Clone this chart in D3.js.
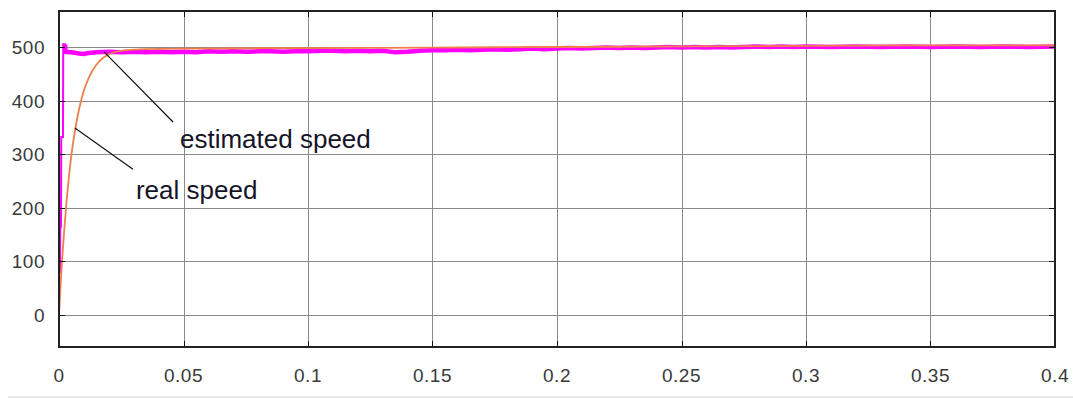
<!DOCTYPE html>
<html><head><meta charset="utf-8">
<script src="https://cdn.jsdelivr.net/npm/d3@7"></script>
<style>body{margin:0;background:#fff;} svg{display:block;}</style>
</head><body>
<script>
// ---- data ----
const xTicks = [0, 0.05, 0.1, 0.15, 0.2, 0.25, 0.3, 0.35, 0.4];
const xTickLabels = ["0", "0.05", "0.1", "0.15", "0.2", "0.25", "0.3", "0.35", "0.4"];
const yTicks = [0, 100, 200, 300, 400, 500];
const yTickLabels = ["0", "100", "200", "300", "400", "500"];

// real speed (magenta)
const realT = [0, 0.0001, 0.0004, 0.0005, 0.0008, 0.0009, 0.0016, 0.0017, 0.0024, 0.0026,
  0.005, 0.008, 0.010, 0.012, 0.015, 0.020, 0.025, 0.030, 0.035, 0.040, 0.045, 0.050,
  0.055, 0.060, 0.065, 0.070, 0.075, 0.080, 0.085, 0.090, 0.095, 0.100, 0.105, 0.110,
  0.115, 0.120, 0.125, 0.130, 0.135, 0.140, 0.145, 0.150, 0.155, 0.160, 0.165, 0.170,
  0.175, 0.180, 0.185, 0.190, 0.195, 0.200, 0.205, 0.210, 0.215, 0.220, 0.225, 0.230,
  0.235, 0.240, 0.245, 0.250, 0.255, 0.260, 0.265, 0.270, 0.275, 0.280, 0.285, 0.290,
  0.295, 0.300, 0.310, 0.320, 0.330, 0.340, 0.350, 0.360, 0.370, 0.380, 0.390, 0.400];
const realV = [0, 80, 80, 160, 165, 332, 332, 505, 505, 491,
  490, 488, 487, 489, 490, 491, 490, 491, 490, 491, 490, 491,
  490, 492, 491, 492, 491, 492, 492, 491, 492, 492, 493, 493,
  492, 493, 492, 493, 490, 491, 493, 494, 494, 495, 494, 495,
  496, 495, 496, 497, 496, 497, 498, 497, 498, 499, 498, 499,
  498, 499, 500, 499, 500, 499, 500, 499, 500, 501, 500, 501,
  500, 501, 500, 501, 500, 501, 500, 501, 500, 501, 500, 501];

// estimated speed (orange)
const estT = [0, 0.0005, 0.001, 0.002, 0.003, 0.004, 0.005, 0.006, 0.008, 0.010, 0.012,
  0.015, 0.018, 0.022, 0.027, 0.035, 0.050, 0.100, 0.150, 0.200, 0.250, 0.300, 0.350, 0.400];
const estV = [0, 45, 85, 152, 210, 258, 299, 332, 383, 419, 443,
  467, 481, 490, 494, 496, 497, 498, 499, 500, 501, 502, 503, 503];

// annotations [t, v]
const annLines = [
  [[0.0181, 491], [0.0458, 360]],
  [[0.0064, 349], [0.0297, 272]]
];
const annTexts = ["estimated speed", "real speed"];
const annTextPos = [[0.0486, 311], [0.0309, 216]];

// ---- drawing ----
const W = 1073, H = 399;
const L = 59, R = 1055, T = 11, B = 347;
const svg = d3.select("body").append("svg").attr("width", W).attr("height", H);

const x = d3.scaleLinear().domain([0, 0.4]).range([L, R]);
const y = d3.scaleLinear().domain([0, 500]).range([315, 47]);

// bottom light separator
svg.append("line").attr("x1", 8).attr("x2", W).attr("y1", 397).attr("y2", 397)
  .attr("stroke", "#e8e8e8").attr("stroke-width", 2);

// grid
const g = svg.append("g");
g.selectAll(".vg").data(xTicks).join("line")
  .attr("x1", d => Math.round(x(d)) + 0.5).attr("x2", d => Math.round(x(d)) + 0.5)
  .attr("y1", T).attr("y2", B).attr("stroke", "#8a8a8a").attr("stroke-width", 1);
g.selectAll(".hg").data(yTicks).join("line")
  .attr("y1", d => Math.round(y(d)) + 0.5).attr("y2", d => Math.round(y(d)) + 0.5)
  .attr("x1", L).attr("x2", R).attr("stroke", "#8a8a8a").attr("stroke-width", 1);

// curves
svg.append("clipPath").attr("id", "c").append("rect")
  .attr("x", L).attr("y", T).attr("width", R - L).attr("height", B - T);
const line = d3.line().x(d => x(d[0])).y(d => y(d[1]));
const realData = realT.map((t, i) => [t, realV[i]]);
const estData = estT.map((t, i) => [t, estV[i]]);
// startup transient (thin) and steady, noisy part (thick band)
svg.append("path").datum(realData.slice(0, 10)).attr("d", line).attr("fill", "none")
  .attr("stroke", "#ff00ff").attr("stroke-width", 2).attr("clip-path", "url(#c)");
svg.append("path").datum(realData.slice(8)).attr("d", line).attr("fill", "none")
  .attr("stroke", "#ff00ff").attr("stroke-width", 4.5).attr("clip-path", "url(#c)");
svg.append("path").datum(estData)
  .attr("d", d3.line().x(d => x(d[0])).y(d => y(d[1])).curve(d3.curveMonotoneX))
  .attr("fill", "none")
  .attr("stroke", "#ee7f4c").attr("stroke-width", 1.8).attr("clip-path", "url(#c)");

// ticks on all sides
const tl = 6;
const tk = svg.append("g").attr("stroke", "#111").attr("stroke-width", 1);
xTicks.forEach(d => {
  const xx = Math.round(x(d)) + 0.5;
  tk.append("line").attr("x1", xx).attr("x2", xx).attr("y1", B).attr("y2", B - tl);
  tk.append("line").attr("x1", xx).attr("x2", xx).attr("y1", T).attr("y2", T + tl);
});
yTicks.forEach(d => {
  const yy = Math.round(y(d)) + 0.5;
  tk.append("line").attr("y1", yy).attr("y2", yy).attr("x1", L).attr("x2", L + tl);
  tk.append("line").attr("y1", yy).attr("y2", yy).attr("x1", R).attr("x2", R - tl);
});

// frame
svg.append("rect").attr("x", L).attr("y", T).attr("width", R - L).attr("height", B - T)
  .attr("fill", "none").attr("stroke", "#222").attr("stroke-width", 2);

// tick labels
const font = "'Liberation Sans', Arial, sans-serif";
svg.selectAll(".xl").data(xTicks).join("text")
  .attr("x", d => x(d)).attr("y", 382).attr("text-anchor", "middle")
  .attr("font-family", font).attr("font-size", 19).attr("letter-spacing", 0.5).attr("fill", "#3a3a3a")
  .text((d, i) => xTickLabels[i]);
svg.selectAll(".yl").data(yTicks).join("text")
  .attr("x", 45).attr("y", d => y(d) + 7).attr("text-anchor", "end")
  .attr("font-family", font).attr("font-size", 19).attr("letter-spacing", 0.5).attr("fill", "#3a3a3a")
  .text((d, i) => yTickLabels[i]);

// annotations
annLines.forEach(seg => {
  svg.append("line").attr("x1", x(seg[0][0])).attr("y1", y(seg[0][1]))
    .attr("x2", x(seg[1][0])).attr("y2", y(seg[1][1]))
    .attr("stroke", "#111").attr("stroke-width", 1.2);
});
annTexts.forEach((t, i) => {
  svg.append("text").attr("x", x(annTextPos[i][0])).attr("y", y(annTextPos[i][1]))
    .attr("font-family", font).attr("font-size", 26).attr("fill", "#141428").text(t);
});
</script>
</body></html>
